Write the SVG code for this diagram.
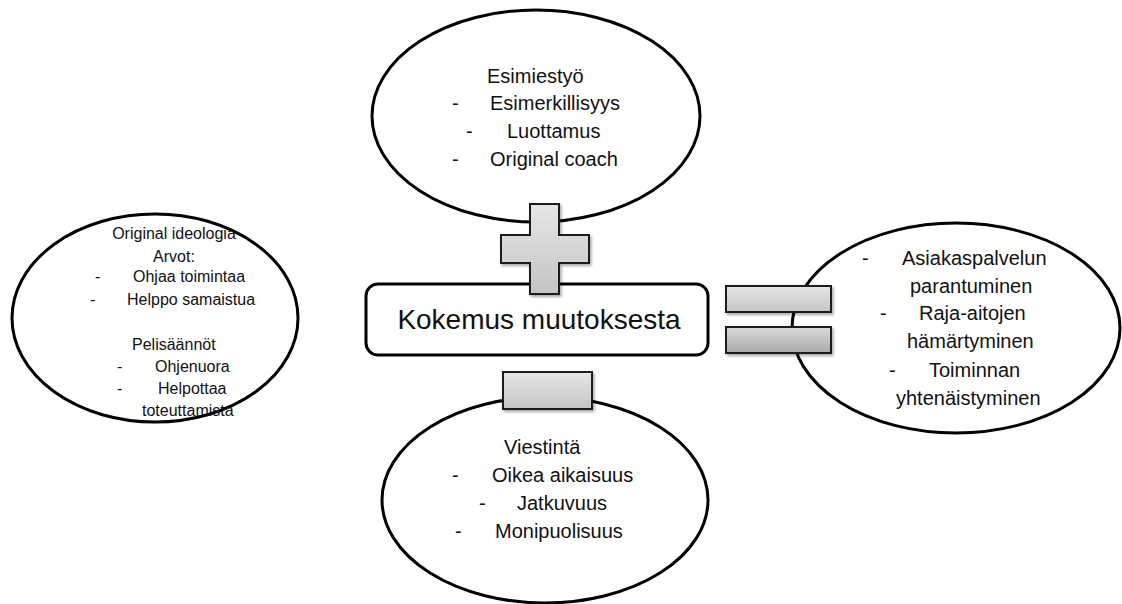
<svg xmlns="http://www.w3.org/2000/svg" width="1122" height="604" viewBox="0 0 1122 604">
<style>
.ell{fill:#fff;stroke:#000;stroke-width:3}
.box{fill:#fff;stroke:#000;stroke-width:3}
.op{stroke:#1a1a1a;stroke-width:2;filter:url(#sh)}
text{font-family:"Liberation Sans",Arial,sans-serif;fill:#111}
.t20{font-size:20px}
.t16{font-size:16px}
.t28{font-size:28px}
.c{text-anchor:middle}
</style>
<defs>
<linearGradient id="g1" x1="0" y1="0" x2="0" y2="1">
<stop offset="0" stop-color="#e6e6e6"/><stop offset="1" stop-color="#c4c4c4"/>
</linearGradient>
<linearGradient id="g2" x1="0" y1="0" x2="0" y2="1">
<stop offset="0" stop-color="#d9d9d9"/><stop offset="1" stop-color="#a9a9a9"/>
</linearGradient>
<filter id="sh" x="-20%" y="-20%" width="150%" height="150%">
<feDropShadow dx="1.5" dy="2" stdDeviation="1.5" flood-color="#000" flood-opacity="0.35"/>
</filter>
</defs>

<g id="node-esimiestyo">
<ellipse class="ell" cx="536" cy="116" rx="164" ry="106"/>
<text class="t20" x="487" y="83">Esimiestyö</text>
<text class="t20" x="452" y="110">-</text><text class="t20" x="490" y="110">Esimerkillisyys</text>
<text class="t20" x="466" y="138">-</text><text class="t20" x="507" y="138">Luottamus</text>
<text class="t20" x="452" y="166">-</text><text class="t20" x="490" y="166">Original coach</text>
</g>

<g id="node-ideologia">
<ellipse class="ell" cx="155" cy="318" rx="143" ry="104"/>
<text class="t16 c" x="174" y="239">Original ideologia</text>
<text class="t16 c" x="174" y="262">Arvot:</text>
<text class="t16" x="95" y="282">-</text><text class="t16" x="133" y="282">Ohjaa toimintaa</text>
<text class="t16" x="90" y="305">-</text><text class="t16" x="127" y="305">Helppo samaistua</text>
<text class="t16" x="132" y="350">Pelisäännöt</text>
<text class="t16" x="117" y="372">-</text><text class="t16" x="155" y="372">Ohjenuora</text>
<text class="t16" x="117" y="394">-</text><text class="t16" x="158" y="394">Helpottaa</text>
<text class="t16" x="142" y="416">toteuttamista</text>
</g>

<g id="node-tulokset">
<ellipse class="ell" cx="956" cy="328" rx="164" ry="105"/>
<text class="t20" x="862" y="265">-</text><text class="t20" x="902" y="265">Asiakaspalvelun</text>
<text class="t20" x="910" y="293">parantuminen</text>
<text class="t20" x="880" y="320">-</text><text class="t20" x="919" y="320">Raja-aitojen</text>
<text class="t20" x="907" y="348">hämärtyminen</text>
<text class="t20" x="889" y="377">-</text><text class="t20" x="929" y="377">Toiminnan</text>
<text class="t20" x="896" y="405">yhtenäistyminen</text>
</g>

<g id="node-viestinta">
<ellipse class="ell" cx="545" cy="500" rx="163" ry="103"/>
<text class="t20" x="504" y="454">Viestintä</text>
<text class="t20" x="452" y="482">-</text><text class="t20" x="492" y="482">Oikea aikaisuus</text>
<text class="t20" x="479" y="510">-</text><text class="t20" x="517" y="510">Jatkuvuus</text>
<text class="t20" x="455" y="538">-</text><text class="t20" x="495" y="538">Monipuolisuus</text>
</g>

<g id="node-kokemus">
<rect class="box" x="366" y="284" width="342" height="71" rx="12" ry="12"/>
<text class="t28 c" x="539" y="329">Kokemus muutoksesta</text>
</g>

<g id="connectors">
<g id="op-plus">
<path class="op" fill="url(#g1)" d="M530,204 H559 V235 H589 V263 H559 V294 H530 V263 H501 V235 H530 Z"/>
</g>
<g id="op-minus">
<rect class="op" fill="url(#g1)" x="503" y="372" width="89" height="37"/>
</g>
<g id="op-equals">
<rect class="op" fill="url(#g1)" x="726" y="286" width="105" height="26"/>
<rect class="op" fill="url(#g2)" x="726" y="327" width="105" height="26"/>
</g>
</g>
</svg>
